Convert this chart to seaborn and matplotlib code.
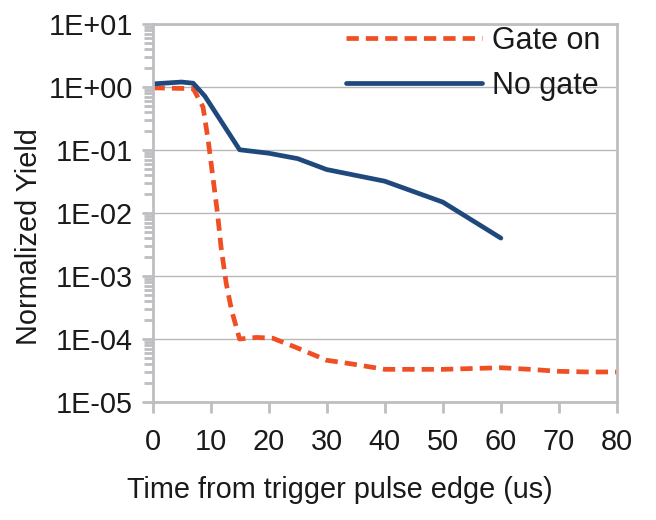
import matplotlib
matplotlib.use("Agg")
import matplotlib.pyplot as plt
import matplotlib.ticker as mticker
import seaborn as sns
import pandas as pd

# --- data ---
gate_on_time = [0, 5, 7, 8.7, 9.6, 10.4, 11.2, 11.8, 12.7, 13.6, 15, 17.9, 20.7,
                24.5, 30, 34.5, 40, 45, 50, 55, 60, 65, 70, 75, 80]
gate_on_yield = [0.97, 0.95, 0.95, 0.48, 0.14, 0.037, 0.0098, 0.0029, 7.6e-4, 2.9e-4,
                 1.0e-4, 1.06e-4, 1.03e-4, 7.5e-5, 4.6e-5, 4.0e-5, 3.3e-5, 3.3e-5,
                 3.3e-5, 3.4e-5, 3.5e-5, 3.3e-5, 3.07e-5, 3.0e-5, 3.0e-5]

no_gate_time = [0, 5, 7, 9, 15, 20, 25, 30, 40, 50, 60]
no_gate_yield = [1.12, 1.2, 1.15, 0.72, 0.101, 0.089, 0.073, 0.049, 0.032, 0.0149, 0.0040]

series_names = ["Gate on", "No gate"]
x_ticks = [0, 10, 20, 30, 40, 50, 60, 70, 80]
y_ticks = [1e-5, 1e-4, 1e-3, 1e-2, 1e-1, 1e0, 1e1]

colors = {"Gate on": "#F04E23", "No gate": "#1F497D"}
axis_gray = "#BEBEC2"
text_color = "#1a1a1a"
fs = 20.8

def main():
    sns.set_theme(style="white")
    plt.rcParams["font.family"] = ["Liberation Sans", "DejaVu Sans"]

    df_on = pd.DataFrame({"time": gate_on_time, "yield": gate_on_yield})
    df_off = pd.DataFrame({"time": no_gate_time, "yield": no_gate_yield})

    fig = plt.figure(figsize=(6.56, 5.2), dpi=100)
    ax = fig.add_axes([0.2325, 0.2269, 0.708, 0.7269])

    sns.lineplot(x="time", y="yield", data=df_on, ax=ax, color=colors["Gate on"],
                 linewidth=3.4, label=series_names[0])
    ax.lines[-1].set_dashes((2.6, 1.5))
    sns.lineplot(x="time", y="yield", data=df_off, ax=ax, color=colors["No gate"],
                 linewidth=3.4, label=series_names[1])

    ax.set_yscale("log")
    ax.set_ylim(1e-5, 1e1)
    ax.set_xlim(0, 80)
    ax.set_xticks(x_ticks)
    ax.set_yticks(y_ticks)
    ax.yaxis.set_major_formatter(mticker.FuncFormatter(lambda v, p: format(v, ".0E")))
    ax.yaxis.set_minor_locator(mticker.LogLocator(base=10, subs=range(2, 10), numticks=20))
    ax.yaxis.set_minor_formatter(mticker.NullFormatter())

    ax.grid(True, axis="y", which="major", color="#B8B8B8", linewidth=1.0)
    ax.set_axisbelow(True)
    for sp in ax.spines.values():
        sp.set_color(axis_gray)
        sp.set_linewidth(2.0)

    ax.tick_params(axis="both", which="major", direction="out", length=8, width=2,
                   color=axis_gray, labelsize=fs, labelcolor=text_color, pad=6,
                   left=True, bottom=True)
    ax.tick_params(axis="y", which="minor", direction="out", length=6.5, width=2,
                   color=axis_gray, left=True)
    ax.tick_params(axis="x", pad=11)

    # axis titles are not centred on the plot area in the reference
    ax.set_xlabel("Time from trigger pulse edge (us)", fontsize=fs, color=text_color)
    ax.xaxis.set_label_coords(0.403, -0.195)
    ax.set_ylabel("Normalized Yield", fontsize=fs, color=text_color)
    ax.yaxis.set_label_coords(-0.235, 0.439)

    leg = ax.legend(loc="upper right", frameon=False, fontsize=22, handlelength=4.45,
                    handletextpad=0.33, labelspacing=0.5, borderaxespad=0.0,
                    bbox_to_anchor=(0.99, 1.028))
    for t in leg.get_texts():
        t.set_color(text_color)

    fig.savefig("out.png", dpi=100)
    plt.close(fig)

if __name__ == "__main__":
    main()
